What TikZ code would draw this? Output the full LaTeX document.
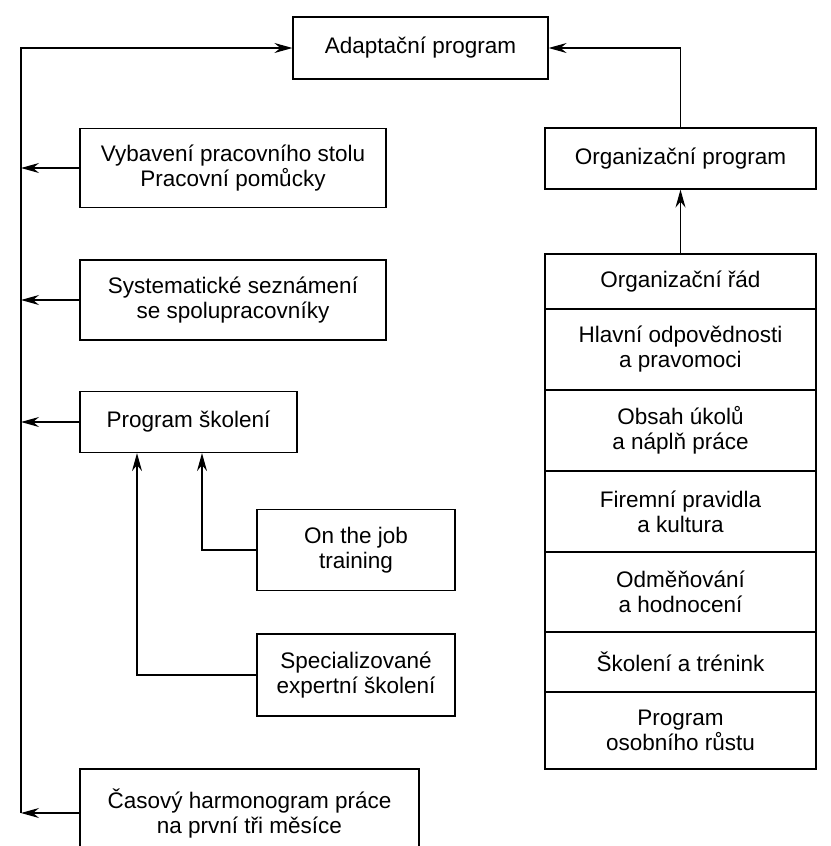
\documentclass[tikz,border=0pt]{standalone}
\usepackage{fontspec}
\setmainfont{Liberation Sans}
\usetikzlibrary{arrows.meta}

\begin{document}
\begin{tikzpicture}[x=1pt,y=-1pt,
        box/.style={draw, line width=1.2pt, inner sep=0pt, align=center,
            font=\fontsize{22.5}{25}\selectfont},
        link/.style={line width=1.2pt, -{Stealth[length=18pt,width=10pt,inset=6pt]}}]
        \clip (0,0) rectangle (830,846);
        \fill[white] (0,0) rectangle (830,846);
        % left column
        \node[box, minimum width=255, minimum height=62] (adapt) at (420.5,48) {Adaptační program};
        \node[box, minimum width=306, minimum height=79] (vyb) at (233,168) {Vybavení pracovního stolu\\Pracovní pomůcky};
        \node[box, minimum width=306, minimum height=80] (sys) at (233,300) {Systematické seznámení\\se spolupracovníky};
        \node[box, minimum width=217, minimum height=61] (prog) at (188.5,422) {Program školení};
        \node[box, minimum width=198, minimum height=81] (job) at (356,550) {On the job\\training};
        \node[box, minimum width=198, minimum height=82] (spec) at (356,675) {Specializované\\expertní školení};
        \node[box, minimum width=339, minimum height=88] (cas) at (249.5,813) {Časový harmonogram práce\\na první tři měsíce};
        \coordinate (top) at (21,48);
        \coordinate (bot) at (21,813);
        \draw[link] (bot) -- (top) -- (adapt.west);
        \draw[link] (vyb.west) -- (vyb.west -| top);
        \draw[link] (sys.west) -- (sys.west -| top);
        \draw[link] (prog.west) -- (prog.west -| top);
        \draw[link] (cas.west) -- (bot);
        \draw[link] (job.west) -| ([xshift=13.5]prog.south);
        \draw[link] (spec.west) -| ([xshift=-51.5]prog.south);
        % right column
        \node[box, minimum width=271, minimum height=61] (org) at (680.5,158.5) {Organizační program};
        \node[box, minimum width=271, minimum height=55] (rad) at (680.5,281.5) {Organizační řád};
        \node[box, minimum width=271, minimum height=81] (odp) at (680.5,349.5) {Hlavní odpovědnosti\\a pravomoci};
        \node[box, minimum width=271, minimum height=81] (ukol) at (680.5,430.5) {Obsah úkolů\\a náplň práce};
        \node[box, minimum width=271, minimum height=81] (pravidla) at (680.5,511.5) {Firemní pravidla\\a kultura};
        \node[box, minimum width=271, minimum height=80] (odmena) at (680.5,592) {Odměňování\\a hodnocení};
        \node[box, minimum width=271, minimum height=60] (trenink) at (680.5,662) {Školení a trénink};
        \node[box, minimum width=271, minimum height=77] (rust) at (680.5,730.5) {Program\\osobního růstu};
        \draw[link] (rad.north) -- (org.south);
        \draw[link] (org.north) |- (adapt.east);
    \end{tikzpicture}
\end{document}
